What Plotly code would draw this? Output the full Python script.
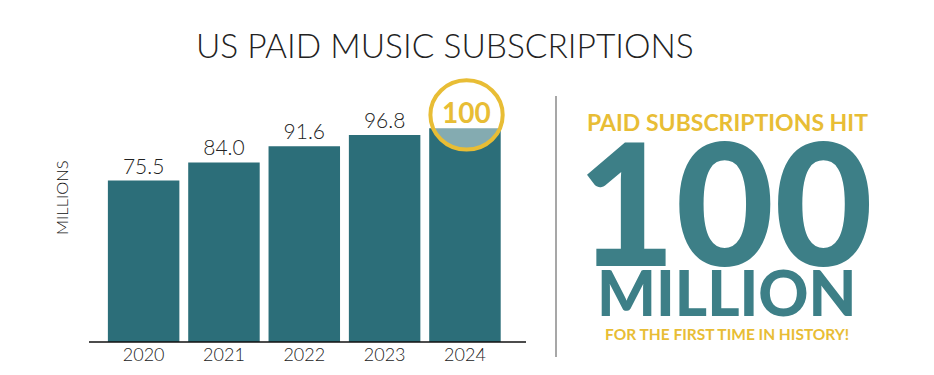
import plotly.graph_objects as go

years = ["2020", "2021", "2022", "2023", "2024"]
subs = [75.5, 84.0, 91.6, 96.8, 100.0]
value_labels = ["75.5", "84.0", "91.6", "96.8", "100"]

W, H = 934, 375
BAR = "#2C6E79"
TEAL = "#3D7F87"
GOLD = "#E8BD35"
INK = "#222222"
FONT = "Lato"

def px(x):
    return x / W

def py(y):
    return 1 - y / H

fig = go.Figure()
fig.add_trace(go.Bar(
    x=years, y=subs,
    marker=dict(color=BAR, line=dict(width=0)),
    width=0.89,
    text=value_labels[:-1] + [""],
    textposition="outside",
    textfont=dict(family=FONT, size=21, color=INK, weight=300),
    cliponaxis=False,
    hoverinfo="skip",
))

# highlight circle around last bar's label
last = len(years) - 1
cx, cy = last + 0.02, subs[-1] + 6.2
rx, ry = 0.45, 16.2
fig.add_shape(type="circle", xref="x", yref="y",
              x0=cx - rx, x1=cx + rx, y0=cy - ry, y1=cy + ry,
              line=dict(color=GOLD, width=4),
              fillcolor="rgba(255,255,255,0.42)", layer="above")
fig.add_annotation(x=last, y=subs[-1], xref="x", yref="y",
                   text="<b>" + value_labels[-1] + "</b>", showarrow=False,
                   yanchor="bottom", yshift=-3, xshift=2,
                   font=dict(family=FONT, size=28, color=GOLD))

# axis baseline
fig.add_shape(type="line", xref="paper", yref="paper",
              x0=px(89), x1=px(526), y0=py(342), y1=py(342),
              line=dict(color="#111111", width=1.5))
# separator
fig.add_shape(type="line", xref="paper", yref="paper",
              x0=px(556), x1=px(556), y0=py(96), y1=py(357),
              line=dict(color="#8A8A8A", width=1.5))

anns = [
    dict(text="US PAID MUSIC SUBSCRIPTIONS", x=px(445), y=py(45),
         font=dict(family=FONT, size=33.5, color=INK, weight=300)),
    dict(text="MILLIONS", x=px(62), y=py(198), textangle=-90,
         font=dict(family=FONT, size=16.5, color="#111111", weight=300)),
    dict(text="PAID SUBSCRIPTIONS HIT", x=px(727), y=py(122),
         font=dict(family=FONT, size=23, color=GOLD, weight=700)),
    dict(text="100", x=px(725), y=py(200),
         font=dict(family=FONT, size=170, color=TEAL, weight=900)),
    dict(text="MILLION", x=px(727), y=py(292),
         font=dict(family=FONT, size=62, color=TEAL, weight=900)),
    dict(text="FOR THE FIRST TIME IN HISTORY!", x=px(727), y=py(334),
         font=dict(family=FONT, size=15.5, color=GOLD, weight=700)),
]
for a in anns:
    fig.add_annotation(xref="paper", yref="paper", showarrow=False,
                       xanchor="center", yanchor="middle", **a)

fig.update_layout(
    width=W, height=H, autosize=False,
    margin=dict(l=0, r=0, t=0, b=0),
    paper_bgcolor="white", plot_bgcolor="white",
    showlegend=False,
    bargap=0.11,
    xaxis=dict(type="category", domain=[px(89), px(526)], range=[-0.68, 4.76],
               showgrid=False, zeroline=False, showline=False,
               ticks="", tickfont=dict(family=FONT, size=18, color=INK, weight=300)),
    yaxis=dict(domain=[py(342), 1], range=[0, 160],
               showgrid=False, zeroline=False, showline=False,
               showticklabels=False, ticks=""),
)

fig.write_html("out.html")
